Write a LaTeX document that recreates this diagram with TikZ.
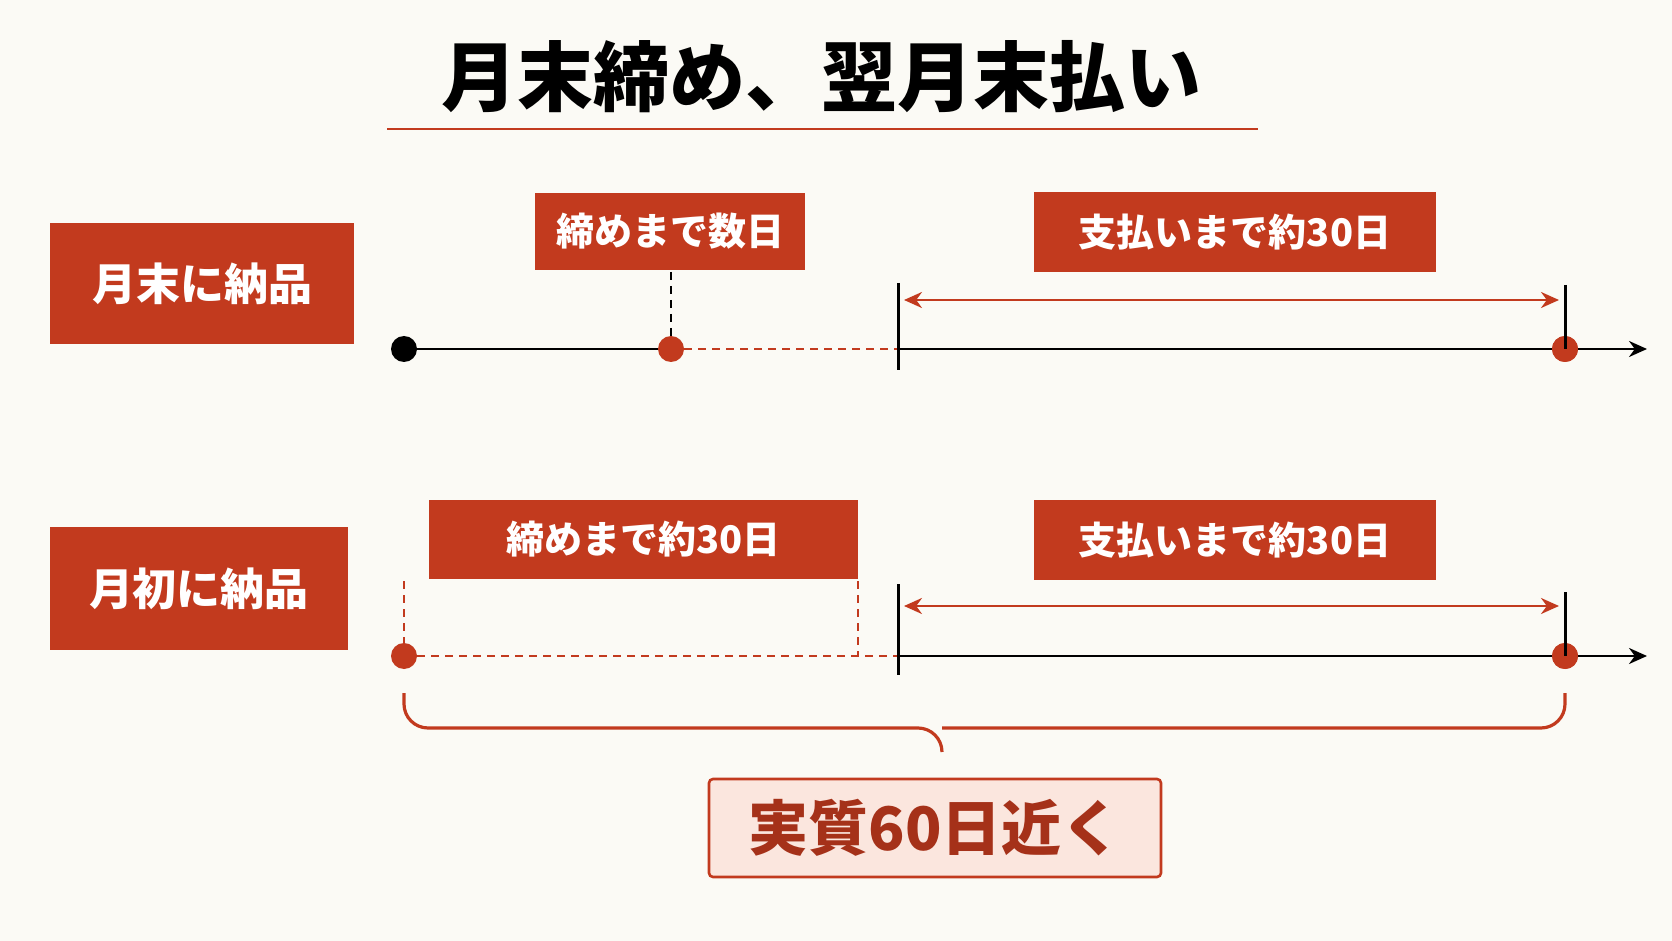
\documentclass[tikz,border=0pt]{standalone}
\usepackage{fontspec}
\setmainfont{Noto Sans CJK JP}
\usetikzlibrary{arrows.meta,decorations.pathreplacing}
\definecolor{rd}{HTML}{C23A1E}
\definecolor{bg}{HTML}{FBFAF5}
\definecolor{pk}{HTML}{FBE6DE}
\begin{document}
\begin{tikzpicture}[x=0.5pt,y=-0.5pt,
  lbl/.style={fill=rd,text=white,font=\bfseries\fontsize{19}{19}\selectfont,inner sep=0pt,anchor=center},
  tick/.style={line width=1.5pt,black},
  tl/.style={line width=1.4pt,black},
  rdash/.style={rd,line width=1.4pt,dash pattern=on 4pt off 3pt},
  dot/.style={circle,inner sep=0pt,minimum size=13pt}]
\fill[bg] (0,0) rectangle (1672,941);
\useasboundingbox (0,0) rectangle (1672,941);
\node[font=\bfseries\fontsize{38}{38}\selectfont] (title) at (821,77) {月末締め、翌月末払い};
\draw[rd,line width=1.3pt] (387,129) -- (1258,129);
% boxes
\node[lbl,minimum width=152pt,minimum height=60.5pt,font=\bfseries\fontsize{22}{22}\selectfont] (b1) at (202,283.5) {月末に納品};
\node[lbl,minimum width=149pt,minimum height=61.5pt,font=\bfseries\fontsize{22}{22}\selectfont] (b2) at (199,588.5) {月初に納品};
% row 1
\node[dot,fill=black] (s1) at (404,349) {};
\node[dot,fill=rd] (c1) at (671,349) {};
\coordinate (t1) at (898,349);
\node[dot,fill=rd] (p1) at (1565,349) {};
\coordinate (e1) at (1647,349);
\draw[tl] (s1) -- (c1);
\draw[rdash] (c1) -- (t1);
\draw[tl,-{Stealth[length=9pt,width=8pt]}] (t1) -- (e1);
\node[dot,fill=rd] at (1565,349) {};
\draw[tick] (898,283) -- (898,370);
\draw[tick] (1565,285) -- (1565,349);
\draw[black,line width=1.2pt,dash pattern=on 4pt off 3pt] (671,272) -- (c1);
\draw[rd,line width=1.3pt,{Stealth[length=9pt,width=8pt]}-{Stealth[length=9pt,width=8pt]}] (904,300) -- (1559,300);
\node[lbl,minimum width=135pt,minimum height=38.5pt] (l1) at (670,231.5) {締めまで数日};
\node[lbl,minimum width=201pt,minimum height=40pt] (l2) at (1235,232) {支払いまで約30日};
% row 2
\node[dot,fill=rd] (s2) at (404,656) {};
\coordinate (t2) at (898,656);
\node[dot,fill=rd] (p2) at (1565,656) {};
\coordinate (e2) at (1647,656);
\draw[rdash] (s2) -- (t2);
\draw[tl,-{Stealth[length=9pt,width=8pt]}] (t2) -- (e2);
\node[dot,fill=rd] at (1565,656) {};
\draw[tick] (898,584) -- (898,675);
\draw[tick] (1565,592) -- (1565,656);
\draw[rd,line width=1pt,dash pattern=on 4pt off 3pt] (404,581) -- (s2);
\draw[rd,line width=1pt,dash pattern=on 4pt off 3pt] (858,581) -- (858,656);
\draw[rd,line width=1.3pt,{Stealth[length=9pt,width=8pt]}-{Stealth[length=9pt,width=8pt]}] (904,606) -- (1559,606);
\node[lbl,minimum width=214.5pt,minimum height=39.5pt] (l3) at (643.5,539.5) {締めまで約30日};
\node[lbl,minimum width=201pt,minimum height=40pt] (l4) at (1235,540) {支払いまで約30日};
% brace
\draw[rd,line width=1.6pt,rounded corners=12pt] (404,693) -- (404,728) -- (942,728) -- (942,752);
\draw[rd,line width=1.6pt,rounded corners=12pt] (1565,693) -- (1565,728) -- (942,728);
\node[draw=rd,line width=1.3pt,fill=pk,rounded corners=2pt,minimum width=226pt,minimum height=49pt,inner sep=0pt,text=rd!85!black,font=\bfseries\fontsize{30}{30}\selectfont] (res) at (935,828) {実質60日近く};
\end{tikzpicture}
\end{document}
